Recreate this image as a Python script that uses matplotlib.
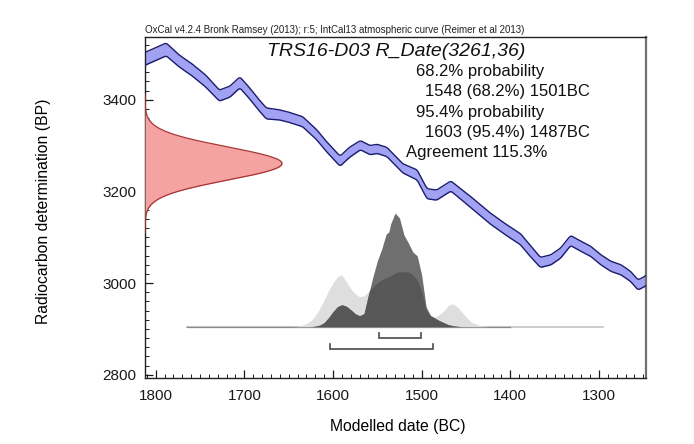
import numpy as np
import matplotlib
matplotlib.use("Agg")
import matplotlib.pyplot as plt
from matplotlib.ticker import MultipleLocator

plt.rcParams['font.family'] = ['Liberation Sans', 'DejaVu Sans']

# ---- calibration curve (IntCal13) ----
cal_years = [1812, 1803, 1788, 1773, 1758, 1743, 1728, 1716, 1705, 1694, 1682, 1675,
             1660, 1648, 1634, 1618, 1607, 1592, 1581, 1569, 1558, 1550, 1539, 1528,
             1521, 1505, 1494, 1483, 1467, 1441, 1422, 1403, 1388, 1377, 1366, 1354,
             1343, 1332, 1320, 1309, 1298, 1286, 1275, 1264, 1256, 1249, 1243]
cal_bp = [3489, 3497, 3510, 3484, 3464, 3440, 3409, 3418, 3438, 3414, 3385, 3370,
          3367, 3361, 3352, 3323, 3297, 3266, 3286, 3301, 3290, 3293, 3286, 3264,
          3250, 3236, 3195, 3192, 3212, 3171, 3140, 3114, 3095, 3069, 3045, 3051,
          3066, 3093, 3080, 3069, 3051, 3036, 3029, 3014, 2996, 3003, 3011]
cal_sigma = [14, 14, 14, 13, 13, 13, 12, 12, 12, 12, 12, 12,
             11, 11, 11, 11, 11, 11, 11, 10, 10, 10, 10, 10,
             10, 11, 11, 11, 11, 12, 12, 12, 12, 12, 11, 11,
             11, 11, 11, 11, 11, 11, 11, 11, 11, 11, 11]

# ---- radiocarbon measurement ----
c14_mean = 3261
c14_err = 36

# ---- likelihood (light grey) ----
lik_years = [1645, 1640, 1635, 1630, 1625, 1620, 1615, 1610, 1605, 1600, 1595, 1590,
             1585, 1580, 1575, 1570, 1565, 1560, 1555, 1550, 1545, 1540, 1535, 1530,
             1525, 1520, 1515, 1510, 1505, 1500, 1495, 1490, 1485, 1480, 1475, 1470,
             1465, 1460, 1455, 1450, 1445, 1440, 1435, 1430, 1425]
lik_prob = [0, 0.5, 1.5, 3, 6, 11, 18, 27, 36, 44, 50, 52,
            45, 38, 33, 30, 31, 35, 40, 44, 47, 49, 51, 54,
            55, 55, 55, 52, 47, 36, 17, 11, 10, 12, 16, 21,
            23, 20, 15, 10, 5, 3, 1.5, 0.5, 0]

# ---- posterior (dark grey) ----
post_years = [1625, 1620, 1615, 1610, 1605, 1600, 1595, 1590, 1585, 1580, 1575, 1570,
              1565, 1560, 1555, 1550, 1545, 1540, 1537, 1535, 1530, 1525, 1520, 1515,
              1510, 1505, 1500, 1495, 1490, 1485, 1480, 1475, 1470, 1465, 1460, 1455]
post_prob = [0, 0.5, 1.5, 4, 9, 15, 20, 22, 20.5, 17, 13, 11,
             13, 32, 50, 66, 78, 93, 95, 103, 114, 109, 92, 84,
             75, 71, 52, 20, 11, 8.5, 6, 4, 2, 1, 0.4, 0]

# ---- ranges ----
range68 = (1548, 1501)
range95 = (1603, 1487)

title = "TRS16-D03 R_Date(3261,36)"
header = "OxCal v4.2.4 Bronk Ramsey (2013); r:5; IntCal13 atmospheric curve (Reimer et al 2013)"
info_lines = ["68.2% probability", "1548 (68.2%) 1501BC",
              "95.4% probability", "1603 (95.4%) 1487BC",
              "Agreement 115.3%"]

xticks = [1800, 1700, 1600, 1500, 1400, 1300]
yticks = [2800, 3000, 3200, 3400]

W, H = 694, 444
L, R, T, B = 145, 646, 37, 378
fig = plt.figure(figsize=(W / 100, H / 100), dpi=100)
ax = fig.add_axes([L / W, (H - B) / H, (R - L) / W, (B - T) / H])
XL, XR = 1812, 1247
YB, YT = 2793, 3537
ax.set_xlim(XL, XR)
ax.set_ylim(YB, YT)

# calibration band (rendered on a fine grid with slight rounding of the corners)
cy = np.array(cal_years, float)[::-1]
cb = np.array(cal_bp, float)[::-1]
cs = np.array(cal_sigma, float)[::-1]
fine = np.arange(cy[0], cy[-1] + 0.25, 0.25)
fb = np.interp(fine, cy, cb)
fs = np.interp(fine, cy, cs)
k = 17
ker = np.ones(k) / k
pad = k // 2
fb_s = np.convolve(np.pad(fb, pad, mode='edge'), ker, mode='valid')
ax.fill_between(fine, fb_s - fs, fb_s + fs, color='#a2a2f4', lw=0, zorder=2)
ax.plot(fine, fb_s + fs, color='#1c1c6c', lw=1.0, zorder=3)
ax.plot(fine, fb_s - fs, color='#1c1c6c', lw=1.0, zorder=3)

# radiocarbon gaussian on y axis
yy = np.linspace(c14_mean - 4.2 * c14_err, c14_mean + 4.2 * c14_err, 400)
g = np.exp(-0.5 * ((yy - c14_mean) / c14_err) ** 2)
gw = 154.5
ax.fill_betweenx(yy, XL, XL - gw * g, color='#f4a2a2', lw=0, zorder=4)
ax.plot(XL - gw * g, yy, color='#a83434', lw=0.9, zorder=5)

# distributions
base = 2905
hmax = 248.0
scale = hmax / max(post_prob)
grid = np.arange(1645, 1424, -0.5)
lik = np.interp(grid, lik_years[::-1], lik_prob[::-1], left=0, right=0) * scale
post = np.interp(grid, post_years[::-1], post_prob[::-1], left=0, right=0) * scale
ax.plot([1765, 1295], [base, base], color='#c4c4c4', lw=1.2, zorder=4)
ax.plot([1765, 1400], [base, base], color='#8a8a8a', lw=0.9, zorder=4)
ax.fill_between(grid, base, base + lik, color='#dedede', lw=0, zorder=5)
ax.fill_between(grid, base, base + post, color='#6f6f6f', lw=0, zorder=6)
ax.fill_between(grid, base, base + np.minimum(lik, post), color='#575757', lw=0, zorder=7)

# range brackets
def bracket(r, y, h):
    ax.plot([r[0], r[0], r[1], r[1]], [y + h, y, y, y + h], color='#4a4a4a', lw=1.2,
            zorder=8, solid_joinstyle='miter')
bracket(range68, 2881, 11)
bracket(range95, 2857, 11)

# ticks
ax.set_xticks(xticks)
ax.set_yticks(yticks)
ax.xaxis.set_minor_locator(MultipleLocator(10))
ax.yaxis.set_minor_locator(MultipleLocator(20))
ax.tick_params(which='both', direction='in', top=False, right=False, labelsize=11,
               colors='#1a1a1a')
ax.tick_params(which='major', length=6, width=0.9)
ax.tick_params(which='minor', length=3, width=0.7)
ax.tick_params(axis='x', which='major', pad=8)
ax.tick_params(axis='y', which='major', pad=6)
for sp in ax.spines.values():
    sp.set_linewidth(1.0)
    sp.set_color('#222222')
ax.spines['right'].set_color('#707070')
ax.spines['right'].set_linewidth(1.6)

ax.set_xlabel("Modelled date (BC)", fontsize=11.3)
ax.set_ylabel("Radiocarbon determination (BP)", fontsize=11.3)
ax.xaxis.set_label_coords(0.505, -0.12)
ax.yaxis.set_label_coords(-0.188, 0.49)

# texts
fig.text(L / W, 1 - 33 / H, header, fontsize=7.0, ha='left', va='baseline', color='#222222')
fig.text(396 / W, 1 - 56 / H, title, fontsize=14, style='italic', ha='center',
         va='baseline', color='#111111')
xs = [416, 425, 416, 425, 406]
ys = [76, 96, 117, 137, 157]
for t, x, y in zip(info_lines, xs, ys):
    fig.text(x / W, 1 - y / H, t, fontsize=12, ha='left', va='baseline', color='#111111')

fig.savefig("out.png", dpi=100)
